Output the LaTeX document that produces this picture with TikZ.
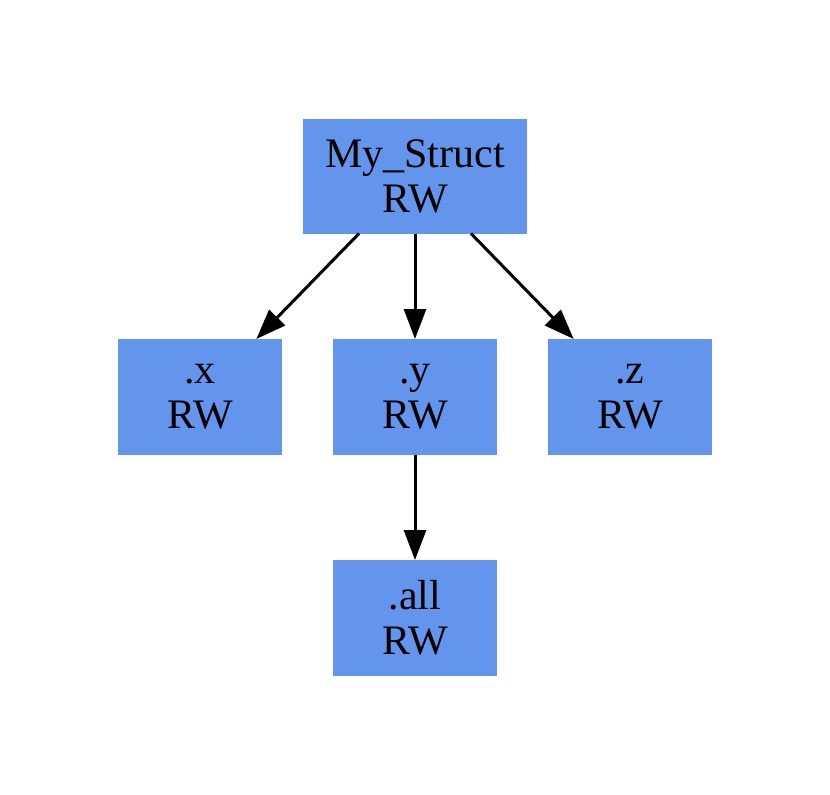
\documentclass[tikz,border=0pt]{standalone}
\usepackage{fontspec}
\setmainfont{Liberation Serif}
\usetikzlibrary{arrows.meta}
\definecolor{fieldblue}{HTML}{6495ED}
\tikzset{
    field/.style={fill=fieldblue, draw=none, outer sep=0pt, inner sep=0pt,
        minimum width=164pt, minimum height=116pt, align=center,
        font=\fontsize{42}{45}\selectfont},
    edge/.style={-{Triangle[length=30pt,width=22pt]}, line width=3pt}
}
\begin{document}
\begin{tikzpicture}[x=1pt,y=-1pt]
                    \useasboundingbox (0,0) rectangle (830,795);
                    % Root
                    \node[field, minimum width=224pt, minimum height=115pt] (root) at (415,176) {My\_Struct\\RW};
                    % Members
                    \node[field] (x) at (200,397) {.x\\RW};
                    \node[field] (y) at (415,397) {.y\\RW};
                    \node[field] (z) at (630,397) {.z\\RW};
                    \node[field] (all) at (415,618) {.all\\RW};
                    % Edges
                    \draw[edge] (root) -- (x);
                    \draw[edge] (root) -- (y);
                    \draw[edge] (root) -- (z);
                    \draw[edge] (y) -- (all);
\end{tikzpicture}
\end{document}
